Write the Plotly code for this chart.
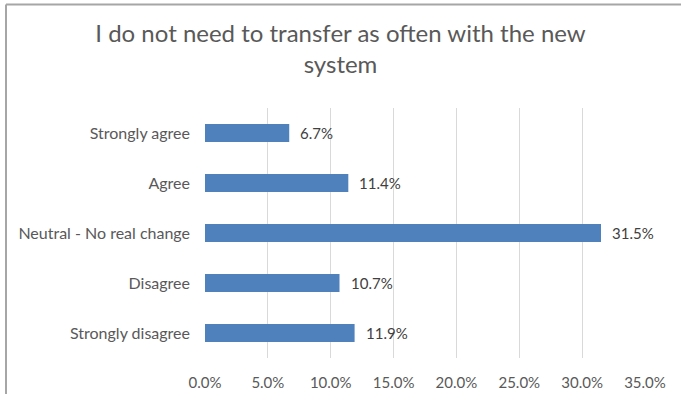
import plotly.graph_objects as go

categories = ["Strongly agree", "Agree", "Neutral - No real change", "Disagree", "Strongly disagree"]
values = [6.7, 11.4, 31.5, 10.7, 11.9]  # percent of respondents
x_ticks = [0, 5, 10, 15, 20, 25, 30, 35]
x_tick_labels = [f"{t:.1f}%" for t in x_ticks]

W, H = 681, 394
m = dict(l=205, r=36, t=108, b=36)
FONT = "Lato"

fig = go.Figure(go.Bar(
    y=categories,
    x=values,
    orientation="h",
    marker=dict(color="#4F81BD", line=dict(width=0)),
    width=0.36,
))

# Value labels just beyond each bar end
for cat, v in zip(categories, values):
    fig.add_annotation(
        x=v, y=cat, xref="x", yref="y",
        text=f"{v:.1f}%", showarrow=False,
        xanchor="left", xshift=9,
        font=dict(family=FONT, size=15, color="#404040"),
    )

# Chart frame (top and left edges)
fx0 = -(m["l"] - 6) / (W - m["l"] - m["r"])
fy1 = 1 + (m["t"] - 4.5) / (H - m["t"] - m["b"])
fig.add_shape(type="line", xref="paper", yref="paper", x0=fx0, x1=1.2, y0=fy1, y1=fy1,
              line=dict(color="#A6A6A6", width=2))
fig.add_shape(type="line", xref="paper", yref="paper", x0=fx0, x1=fx0, y0=-0.3, y1=fy1,
              line=dict(color="#A6A6A6", width=2))

fig.update_layout(
    width=W, height=H,
    margin=m,
    paper_bgcolor="white",
    plot_bgcolor="white",
    showlegend=False,
    title=dict(
        text="I do not need to transfer as often with the new<br>system",
        x=0.5, xref="container", xanchor="center",
        y=1 - 42 / H, yref="container", yanchor="middle",
        font=dict(family=FONT, size=24, color="#595959"),
    ),
    xaxis=dict(
        range=[0, 35],
        tickvals=x_ticks,
        ticktext=x_tick_labels,
        showgrid=True,
        gridcolor="#D9D9D9",
        gridwidth=1,
        zeroline=False,
        showline=False,
        automargin=False,
        tickfont=dict(family=FONT, size=15, color="#595959"),
        ticks="",
        ticklabelstandoff=14,
    ),
    yaxis=dict(
        autorange="reversed",
        showgrid=False,
        zeroline=False,
        showline=False,
        automargin=False,
        ticks="",
        ticklabelstandoff=14,
        tickfont=dict(family=FONT, size=16, color="#595959"),
    ),
)

fig.write_html("out.html")
